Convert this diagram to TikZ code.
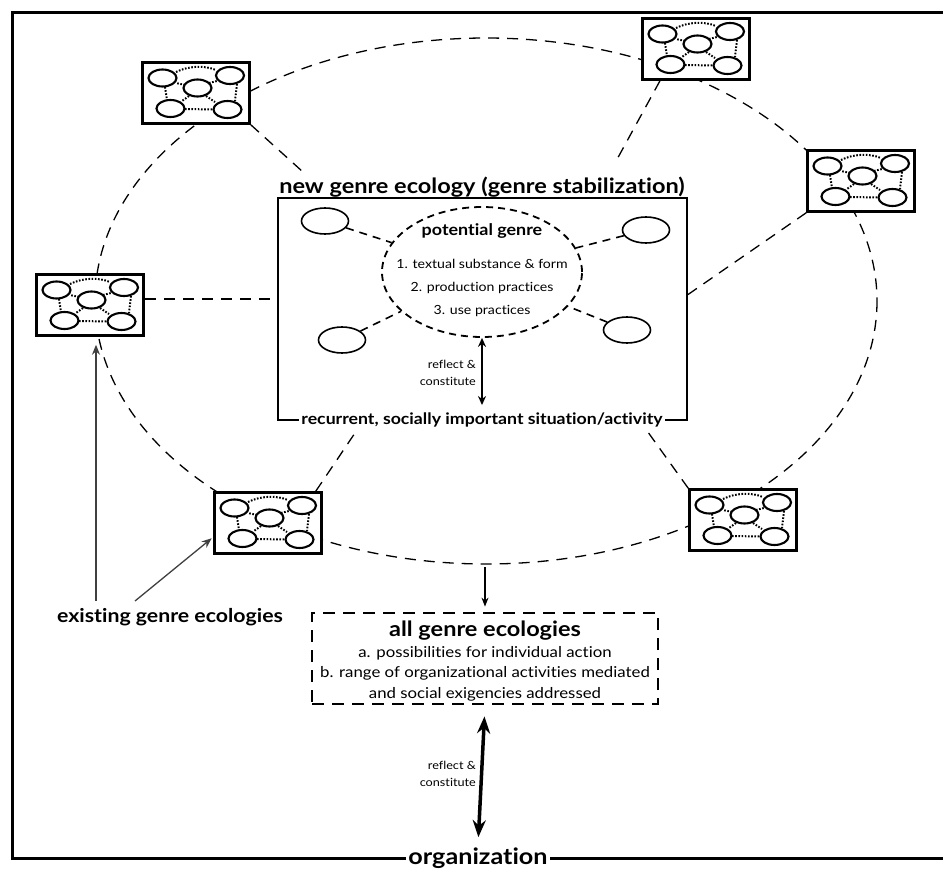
\documentclass[tikz,border=0pt]{standalone}
\usepackage{fontspec}
\setmainfont{Lato}[FakeStretch=1.12,Ligatures=NoCommon]
\usetikzlibrary{arrows.meta,shapes.geometric,backgrounds,calc}
\newcommand{\ecoicon}[1]{%
\begin{scope}[shift={(#1)}]
\draw[eco] (-33.5,-15) ellipse (14 and 8.5);
\draw[eco] (34,-17.5) ellipse (14 and 8.5);
\draw[eco] (1.5,-5) ellipse (14 and 8.5);
\draw[eco] (-25.5,15.5) ellipse (14 and 8.5);
\draw[eco] (31.5,16.5) ellipse (14 and 8.5);
\draw[ecodot] (-20,-21) .. controls (-8,-27) and (8,-28) .. (20,-23);
\draw[ecodot] (-31,-6) -- (-29,7);
\draw[ecodot] (41,-9) -- (39,8);
\draw[ecodot] (-11,16) -- (17,16.5);
\draw[ecodot] (-11,-8) -- (-20,-10);
\draw[ecodot] (13,-10) -- (21,-12);
\draw[ecodot] (-7,3) -- (-14,8);
\draw[ecodot] (10,3) -- (19,9);
\end{scope}}
\begin{document}
\begin{tikzpicture}[x=1pt,y=-1pt,
  ecobox/.style={draw,line width=2.5pt,fill=white,minimum width=107pt,minimum height=61pt,inner sep=0pt},
  eco/.style={line width=2.1pt},
  ecodot/.style={line width=2pt,dash pattern=on 1.6pt off 1.6pt},
  bigdash/.style={line width=1.3pt,dash pattern=on 11pt off 8pt},
  pgdash/.style={line width=1.6pt,dash pattern=on 8pt off 6pt},
  smallell/.style={ellipse,draw,line width=1.6pt,minimum width=47pt,minimum height=26pt,inner sep=0pt},
  exarrow/.style={line width=1.3pt,draw=black!75,-{Stealth[length=10pt,width=8pt]}},
  thinarrow/.style={line width=1.2pt,-{Stealth[length=9pt,width=7pt]}},
  midarrow/.style={line width=1.8pt,{Stealth[length=9pt,width=8pt]}-{Stealth[length=9pt,width=8pt]}},
  bigarrow/.style={line width=3.5pt,{Stealth[length=17pt,width=13pt]}-{Stealth[length=17pt,width=13pt]}},
  small/.style={font=\fontsize{11.3}{17.5}\selectfont,align=right,anchor=east,inner sep=0pt},
  item/.style={font=\fontsize{12.6}{16}\selectfont,anchor=base,inner sep=0pt},
  allitem/.style={font=\fontsize{15}{18}\selectfont,anchor=base,inner sep=0pt}
]
\useasboundingbox (0,0) rectangle (943,870);
% outer frame
\draw[line width=3pt] (943,12) -- (12,12) -- (12,858) -- (943,858);

% ecology boxes
\node[ecobox] (b1) at (196,93) {};
\node[ecobox] (b2) at (696,49) {};
\node[ecobox] (b3) at (861,181) {};
\node[ecobox] (b4) at (90,305) {};
\node[ecobox] (b5) at (268,523) {};
\node[ecobox] (b6) at (743,520) {};
\foreach \b in {b1,b2,b3,b4,b5,b6} {\ecoicon{\b}}

% central box
\node[draw,line width=2pt,minimum width=409pt,minimum height=222pt,inner sep=0pt] (cbox) at (482.5,309) {};
\node[font=\bfseries\fontsize{21}{24}\selectfont,anchor=base,inner sep=0pt] (title) at (482,193) {new genre ecology (genre stabilization)};
\node[fill=white,inner xsep=2pt,inner ysep=1pt,anchor=base,font=\bfseries\fontsize{15.8}{18}\selectfont] (rec) at (482,424) {recurrent, socially important situation/activity};

% potential genre
\node[ellipse,draw,line width=1.8pt,dash pattern=on 7pt off 5pt,minimum width=200pt,minimum height=130pt,inner sep=0pt] (pg) at (482,272) {};
\node[font=\bfseries\fontsize{16}{19}\selectfont,anchor=base,inner sep=0pt] (pgt) at (482,235) {potential genre};
\node[item] (i1) at (482,268) {1. textual substance \& form};
\node[item] (i2) at (482,291) {2. production practices};
\node[item] (i3) at (482,314) {3. use practices};

\node[smallell] (e1) at (325,221) {};
\node[smallell] (e2) at (646,230) {};
\node[smallell] (e3) at (342,340) {};
\node[smallell] (e4) at (627,330) {};
\draw[pgdash] (e1) -- (pg);
\draw[pgdash] (e2) -- (pg);
\draw[pgdash] (e3) -- (pg);
\draw[pgdash] (e4) -- (pg);

\draw[midarrow,shorten >=6pt] (pg.south) -- (rec.north);
\node[small] (lab1) at (476,373) {reflect \&\\constitute};

% radial end points
\coordinate (r1) at (303,172);
\coordinate (r2) at (615,163);
\coordinate (r3) at (683,298);
\coordinate (r5) at (357,430);
\coordinate (r6) at (645,428);
\coordinate (ebot) at (485,567);

\begin{scope}[on background layer]
\draw[bigdash] (486,301) ellipse (391 and 263);
\draw[bigdash] (b1.south east) -- (r1);
\draw[bigdash] ($(b2.south)+(-36,0)$) -- (r2);
\draw[bigdash] (b3.south west) -- (r3);
\draw[bigdash] ($(b5.north east)+(-7,0)$) -- (r5);
\draw[bigdash] (b6.north west) -- (r6);
\draw[bigdash] ([yshift=6pt]b4.east) -- ([yshift=6pt]b4.east -| cbox.west);
\end{scope}

% all genre ecologies
\node[draw,line width=2.8pt,dash pattern=on 12pt off 8pt,minimum width=346pt,minimum height=91pt,inner sep=0pt] (allbox) at (485,658.5) {};
\draw[thinarrow,shorten >=5pt] (ebot) -- (allbox.north);
\node[font=\bfseries\fontsize{21}{24}\selectfont,anchor=base,inner sep=0pt] (t1) at (485,636) {all genre ecologies};
\node[allitem] (t2) at (485,657) {a. possibilities for individual action};
\node[allitem] (t3) at (485,677) {b. range of organizational activities mediated};
\node[allitem] (t4) at (485,698) {and social exigencies addressed};

% organization
\node[fill=white,inner xsep=2pt,inner ysep=2pt,anchor=base,font=\bfseries\fontsize{22.5}{27}\selectfont] (org) at (478,864) {organization};
\draw[bigarrow,shorten <=11pt,shorten >=8pt] (allbox.south) -- (org.north);
\node[small] (lab2) at (476,774) {reflect \&\\constitute};

% existing genre ecologies
\node[font=\bfseries\fontsize{19}{24}\selectfont,anchor=base,inner sep=2pt] (ex) at (170,622) {existing genre ecologies};
\coordinate (x1) at (96,601);
\coordinate (x2) at (135,601);
\draw[exarrow,shorten >=8pt] (x1) -- (x1 |- b4.south);
\draw[exarrow,shorten >=2pt] (x2) -- ([yshift=-14pt]b5.west);
\end{tikzpicture}
\end{document}
